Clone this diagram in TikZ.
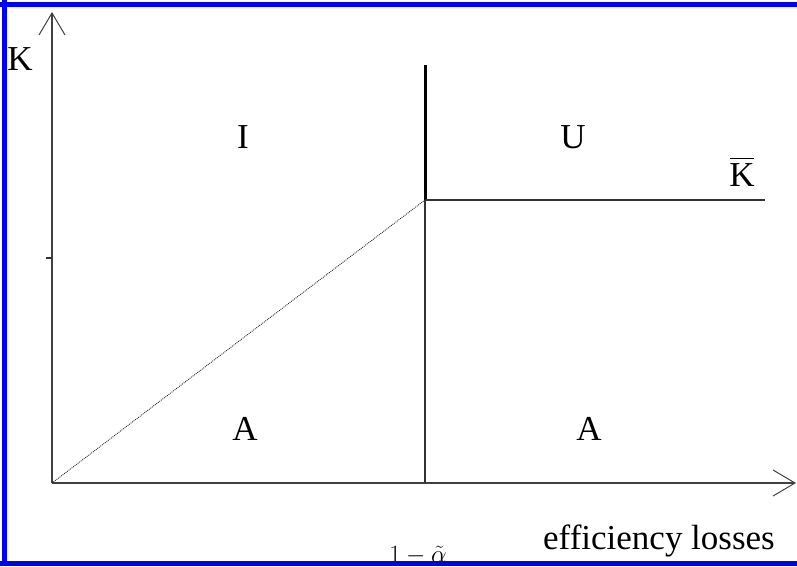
\documentclass[tikz,border=0pt]{standalone}
\usepackage{fontspec}
\setmainfont{Liberation Serif}
\usetikzlibrary{arrows.meta}
\definecolor{frameblue}{RGB}{0,0,245}
\tikzset{
  axis/.style={line width=1.4pt, draw=black!75, -{Straight Barb[length=22pt,width=26pt,line width=1pt]}},
  lbl/.style={font=\fontsize{35}{38}\selectfont, inner sep=0pt},
  thinline/.style={line width=1.4pt, draw=black!80},
}
\begin{document}
\begin{tikzpicture}[x=1pt,y=-1pt]
\useasboundingbox (0,0) rectangle (797,566);
% points
\coordinate (O) at (52,483);
\coordinate (ytop) at (52,12);
\coordinate (xend) at (796,483);
\coordinate (P) at (425,200);
\coordinate (Vtop) at (425,65);
\coordinate (Vbot) at (425,483);
\coordinate (Hend) at (765,200);
\coordinate (tickL) at (46,258);
\coordinate (tickR) at (52,258);
% axes
\draw[axis] (O) -- (ytop);
\draw[axis] (O) -- (xend);
\draw[line width=1.4pt, black!80] (tickL) -- (tickR);
% vertical line
\draw[line width=3pt, black] (Vtop) -- (P);
\draw[thinline] (P) -- (Vbot);
% horizontal line
\draw[thinline] (P) -- (Hend);
% diagonal
\draw[line width=0.9pt, black!85, densely dotted] (O) -- (P);
% labels
\node[lbl] (K) at (20,59) {K};
\node[lbl] (I) at (243,137) {I};
\node[lbl] (U) at (573,137) {U};
\node[lbl] (Kbar) at (742,175) {K};
\draw[line width=1.6pt] ([shift={(1,-5)}]Kbar.north west) -- ([shift={(-1,-5)}]Kbar.north east);
\node[lbl] (A1) at (245,429) {A};
\node[lbl] (A2) at (589,429) {A};
\node[lbl, anchor=base west] (eff) at (543,549) {efficiency losses};
\node[font=\fontsize{25}{28}\selectfont, inner sep=0pt, anchor=base] (alpha) at (418,562) {$1-\tilde{\alpha}$};
% frame
\draw[frameblue, line width=5pt] (0,4.5) -- (797,4.5);
\draw[frameblue, line width=5pt] (4,0) -- (4,566);
\draw[frameblue, line width=5pt] (0,563) -- (797,563);
\end{tikzpicture}
\end{document}
